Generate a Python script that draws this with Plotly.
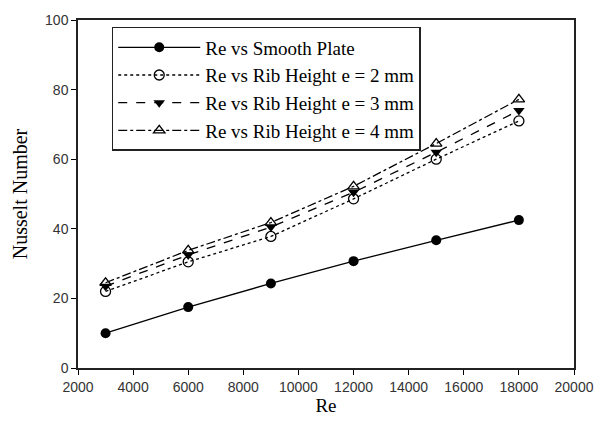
import plotly.graph_objects as go

re_vals = [3000, 6000, 9000, 12000, 15000, 18000]
nu_smooth = [10.0, 17.5, 24.3, 30.7, 36.7, 42.5]
nu_e2 = [22.0, 30.5, 37.8, 48.6, 60.0, 71.0]
nu_e3 = [23.5, 32.5, 40.5, 50.5, 62.0, 74.0]
nu_e4 = [24.5, 33.8, 41.8, 52.2, 64.5, 77.2]
names = ["Re vs Smooth Plate", "Re vs Rib Height e = 2 mm",
         "Re vs Rib Height e = 3 mm", "Re vs Rib Height e = 4 mm"]
x_ticks = [2000, 4000, 6000, 8000, 10000, 12000, 14000, 16000, 18000, 20000]
x_ticklabels = [str(v) for v in x_ticks]
y_ticks = [0, 20, 40, 60, 80, 100]

fig = go.Figure()
series = [
    (nu_smooth, "solid", dict(symbol="circle", size=10, color="black")),
    (nu_e2, "dot", dict(symbol="circle-open", size=10, color="black", line=dict(width=1.3))),
    (nu_e3, "dash", dict(symbol="triangle-down", size=10, color="black")),
    (nu_e4, "dashdot", dict(symbol="triangle-up-open", size=10, color="black", line=dict(width=1.3))),
]
for (vals, dash, mk), nm in zip(series, names):
    fig.add_trace(go.Scatter(x=re_vals, y=vals, mode="lines+markers", name=nm,
                             line=dict(color="black", width=1.3, dash=dash), marker=mk))

fig.update_layout(
    width=606, height=425,
    margin=dict(l=78, r=27, t=16, b=57),
    plot_bgcolor="white", paper_bgcolor="white",
    showlegend=True,
    legend=dict(x=0.068, y=0.98, xanchor="left", yanchor="top",
                bordercolor="#222", borderwidth=1.5, bgcolor="white",
                font=dict(family="Liberation Serif", size=19, color="black"),
                tracegroupgap=0, itemwidth=82),
    xaxis=dict(range=[2000, 20000], tickvals=x_ticks, ticktext=x_ticklabels,
               ticks="outside", ticklen=5,
               tickcolor="black", showline=True, linecolor="#222", linewidth=1.5,
               mirror=True, showgrid=False, zeroline=False,
               tickfont=dict(family="Liberation Sans", size=14, color="#333"),
               title=dict(text="Re", font=dict(family="Liberation Serif", size=19, color="black"), standoff=3)),
    yaxis=dict(range=[0, 100], tickvals=y_ticks, ticks="outside", ticklen=5,
               tickcolor="black", showline=True, linecolor="#222", linewidth=1.5,
               mirror=True, showgrid=False, zeroline=False,
               tickfont=dict(family="Liberation Sans", size=14, color="#333"),
               title=dict(text="Nusselt Number", font=dict(family="Liberation Serif", size=20, color="black"), standoff=12)),
)
fig.write_html("out.html")
